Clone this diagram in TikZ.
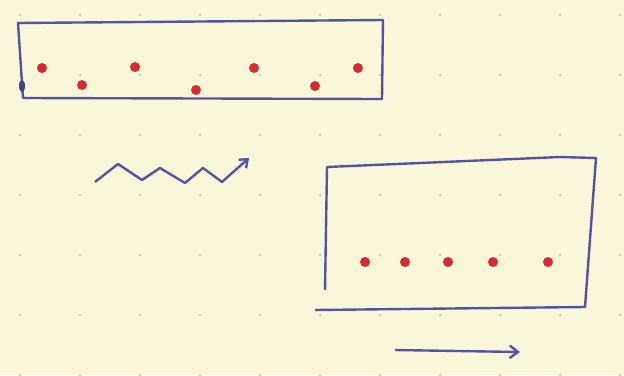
\documentclass[tikz,border=0pt]{standalone}
\usetikzlibrary{arrows.meta}
\definecolor{paper}{RGB}{250,246,218}
\definecolor{ink}{RGB}{86,84,160}
\definecolor{redink}{RGB}{214,44,48}
\definecolor{griddot}{RGB}{175,175,160}

\begin{document}
\begin{tikzpicture}[x=0.025cm,y=-0.025cm]
  \fill[paper] (0,0) rectangle (624,375);
  \useasboundingbox (0,0) rectangle (624,375);
  % dotted paper
  \foreach \i in {0,...,10} \foreach \j in {0,...,6}
    \fill[griddot] (20+60*\i,15+60*\j) circle (1);
  % upper box with scattered dots
  \draw[ink,line width=1.7pt,line join=round] (18,23) -- (383,20) -- (382,99) -- (23,98) -- cycle;
  \fill[ink!80!black] (22,86) ellipse (3 and 6);
  \foreach \p/\q in {42/68,82/85,135/67,196/90,254/68,315/86,358/68}
    \fill[redink] (\p,\q) circle (5);
  % wavy arrow
  \draw[ink,line width=1.7pt,line join=round,-{Straight Barb[length=5pt,width=8pt]}]
    (95,182) -- (118,164) -- (142,180) -- (160,168) -- (185,183) -- (203,168) -- (222,182) -- (249,158);
  % lower box with dots in a row
  \draw[ink,line width=1.7pt,line join=round] (325,290) -- (327,167) -- (560,157) -- (596,158) -- (585,307) -- (315,310);
  \foreach \p in {365,405,448,493,548}
    \fill[redink] (\p,262) circle (5);
  % straight arrow
  \draw[ink,line width=1.7pt,-{Straight Barb[length=6pt,width=9pt]}] (395,350) -- (520,352);
\end{tikzpicture}
\end{document}
